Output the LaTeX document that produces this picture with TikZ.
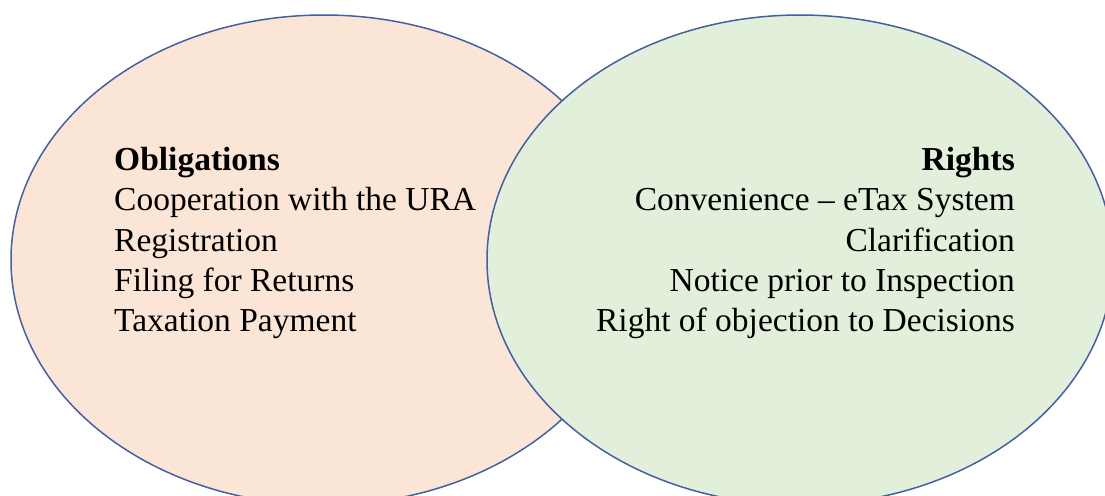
\documentclass[tikz,border=0pt]{standalone}
\usepackage{fontspec}
\setmainfont{Liberation Serif}
\definecolor{peach}{RGB}{251,229,214}
\definecolor{sage}{RGB}{226,239,218}
\definecolor{rim}{RGB}{68,96,160}
\begin{document}
\begin{tikzpicture}[x=1pt,y=-1pt,
  set/.style={draw=rim,line width=1.5pt},
  item/.style={inner sep=0pt,font=\fontsize{33.5}{40}\selectfont}]
\useasboundingbox (0,0) rectangle (1105,495);
\clip (0,0) rectangle (1105,495);
% the two overlapping sets; the right one lies on top
\draw[set,fill=peach] (324,260) ellipse [x radius=313, y radius=245];
\draw[set,fill=sage] (800,260) ellipse [x radius=313, y radius=245];
% left set: obligations
\node[item,anchor=base west] (ob) at (114,170) {\textbf{Obligations}};
\node[item,anchor=base west] (o1) at (114,210.5) {Cooperation with the URA};
\node[item,anchor=base west] (o2) at (114,251) {Registration};
\node[item,anchor=base west] (o3) at (114,291) {Filing for Returns};
\node[item,anchor=base west] (o4) at (114,331.5) {Taxation Payment};
% right set: rights
\node[item,anchor=base east] (ri) at (1015,170) {\textbf{Rights}};
\node[item,anchor=base east] (r1) at (1015,210.5) {Convenience – eTax System};
\node[item,anchor=base east] (r2) at (1015,251) {Clarification};
\node[item,anchor=base east] (r3) at (1015,291) {Notice prior to Inspection};
\node[item,anchor=base east] (r4) at (1015,331.5) {Right of objection to Decisions};
\end{tikzpicture}
\end{document}
